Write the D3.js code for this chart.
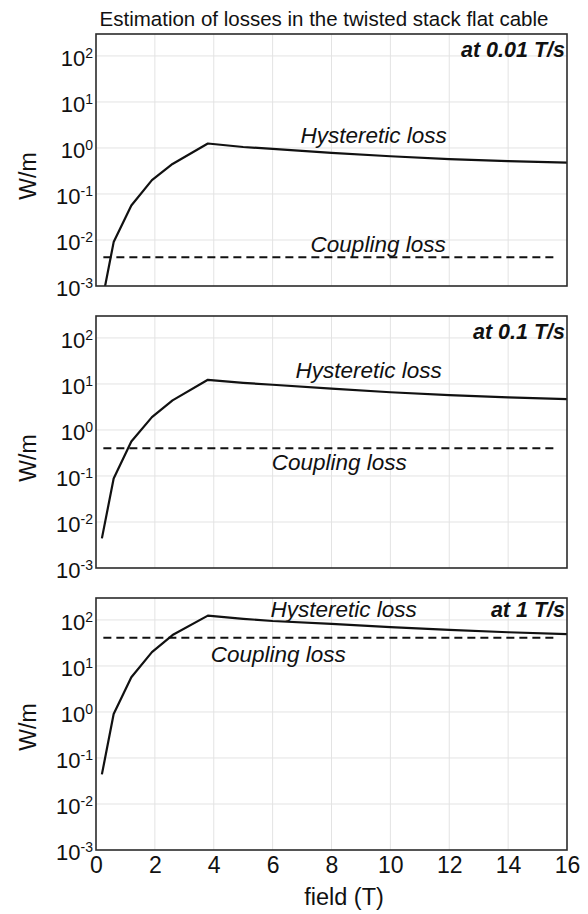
<!DOCTYPE html>
<html>
<head>
<meta charset="utf-8">
<script src="https://cdn.jsdelivr.net/npm/d3@7/dist/d3.min.js"></script>
<style>
  html, body { margin: 0; padding: 0; background: #fff; }
  svg { display: block; font-family: "Liberation Sans", Arial, Helvetica, sans-serif; }
</style>
</head>
<body>
<svg id="chart" width="588" height="914"></svg>
<script>
// Magnetic field (T) at which the losses were evaluated
const fieldT = [0.2, 0.6, 1.2, 1.9, 2.6, 3.8, 5, 6, 8, 10, 12, 14, 16];

// Ramp rates, one panel each
const rateLabels = ["at 0.01 T/s", "at 0.1 T/s", "at 1 T/s"];

// Hysteretic loss (W/m) per ramp rate
const hystereticRate001 = [0.00044, 0.0090, 0.056, 0.20, 0.45, 1.25, 1.05, 0.96, 0.78, 0.66, 0.57, 0.52, 0.48];
const hystereticRate01  = [0.0044, 0.088, 0.56, 1.9, 4.4, 12.3, 10.6, 9.6, 7.9, 6.6, 5.7, 5.1, 4.7];
const hystereticRate1   = [0.044, 0.90, 5.7, 20, 47, 124, 106, 95, 82, 70, 61, 54, 49];

// Coupling loss (W/m), flat over the field range
const couplingLoss = [0.0042, 0.40, 41];

// Axis ticks
const xTicks = [0, 2, 4, 6, 8, 10, 12, 14, 16];
const yTicks = [1e-3, 1e-2, 1e-1, 1e0, 1e1, 1e2];

const hysteretic = [hystereticRate001, hystereticRate01, hystereticRate1];

// Where each curve is named, in data units: [field, W/m]
const hystLabelAt = [[6.95, 1.28], [6.78, 13.5], [5.93, 116]];
const coupLabelAt = [[7.29, 0.0055], [5.97, 0.135], [3.9, 12.2]];
const rateLabelDy = [23, 23, 18.5];
const yTitleShift = [16, 16, 3];

const margin = { left: 96, right: 21 };
const panelTop0 = 34, panelStep = 282, panelH = 252;
const width = 588 - margin.left - margin.right;

const svg = d3.select("#chart");

const x = d3.scaleLinear().domain([0, 16]).range([0, width]);

svg.append("text")
  .attr("x", 324).attr("y", 26)
  .attr("text-anchor", "middle")
  .attr("font-size", "20.5px")
  .attr("fill", "#111")
  .text("Estimation of losses in the twisted stack flat cable");

rateLabels.forEach((rate, i) => {
  const top = panelTop0 + i * panelStep;
  const y = d3.scaleLog().domain([1e-3, 300]).range([panelH, 0]);
  const g = svg.append("g").attr("transform", `translate(${margin.left},${top})`);

  const clipId = "clip" + i;
  g.append("clipPath").attr("id", clipId)
    .append("rect").attr("width", width).attr("height", panelH);

  // grid
  g.append("g").selectAll("line.v").data(xTicks.slice(1, -1)).join("line")
    .attr("x1", d => x(d)).attr("x2", d => x(d))
    .attr("y1", 0).attr("y2", panelH)
    .attr("stroke", "#e3e3e3").attr("stroke-width", 1);
  g.append("g").selectAll("line.h").data(yTicks.slice(1)).join("line")
    .attr("x1", 0).attr("x2", width)
    .attr("y1", d => y(d)).attr("y2", d => y(d))
    .attr("stroke", "#e3e3e3").attr("stroke-width", 1);

  // y axis
  const yAxis = g.append("g")
    .call(d3.axisLeft(y).tickValues(yTicks).tickSize(0).tickPadding(3).tickFormat(() => ""));
  yAxis.select(".domain").remove();
  yAxis.selectAll(".tick text")
    .attr("font-size", "22px").attr("fill", "#111")
    .attr("dy", "0.45em")
    .each(function (d) {
      const t = d3.select(this);
      t.append("tspan").text("10");
      t.append("tspan").attr("font-size", "14px").attr("dy", "-0.62em")
        .text(Math.round(Math.log10(d)));
    });

  // y title
  g.append("text")
    .attr("transform", `translate(${28 - margin.left},${panelH / 2 + yTitleShift[i]}) rotate(-90)`)
    .attr("text-anchor", "middle").attr("dy", "0.36em")
    .attr("font-size", "23px").attr("fill", "#111")
    .text("W/m");

  // x axis only on the bottom panel
  if (i === rateLabels.length - 1) {
    const xAxis = g.append("g").attr("transform", `translate(0,${panelH})`)
      .call(d3.axisBottom(x).tickValues(xTicks).tickSize(0).tickPadding(7));
    xAxis.select(".domain").remove();
    xAxis.selectAll(".tick text").attr("font-size", "23px").attr("fill", "#111");
    g.append("text")
      .attr("x", 248).attr("y", panelH + 55)
      .attr("text-anchor", "middle")
      .attr("font-size", "23.5px").attr("fill", "#111")
      .text("field (T)");
  }

  const plot = g.append("g").attr("clip-path", `url(#${clipId})`);

  // coupling loss (dashed)
  plot.append("line")
    .attr("x1", x(0.25)).attr("x2", x(15.7))
    .attr("y1", y(couplingLoss[i])).attr("y2", y(couplingLoss[i]))
    .attr("stroke", "#111").attr("stroke-width", 2)
    .attr("stroke-dasharray", "8,5");

  // hysteretic loss
  const line = d3.line().x((d, k) => x(fieldT[k])).y(d => y(d));
  plot.append("path")
    .datum(hysteretic[i])
    .attr("d", line)
    .attr("fill", "none").attr("stroke", "#111")
    .attr("stroke-width", 2.2).attr("stroke-linejoin", "round");

  // curve names
  g.append("text")
    .attr("x", x(hystLabelAt[i][0])).attr("y", y(hystLabelAt[i][1]))
    .attr("font-size", "22.5px").attr("font-style", "italic").attr("fill", "#111")
    .text("Hysteretic loss");
  g.append("text")
    .attr("x", x(coupLabelAt[i][0])).attr("y", y(coupLabelAt[i][1]))
    .attr("font-size", "22.5px").attr("font-style", "italic").attr("fill", "#111")
    .text("Coupling loss");

  // ramp rate
  g.append("text")
    .attr("x", width - 2).attr("y", rateLabelDy[i])
    .attr("text-anchor", "end")
    .attr("font-size", "21.5px").attr("font-style", "italic").attr("font-weight", "bold")
    .attr("fill", "#111")
    .text(rate);

  // frame
  g.append("rect")
    .attr("width", width).attr("height", panelH)
    .attr("fill", "none").attr("stroke", "#2b2b2b").attr("stroke-width", 1.6);
});
</script>
</body>
</html>
